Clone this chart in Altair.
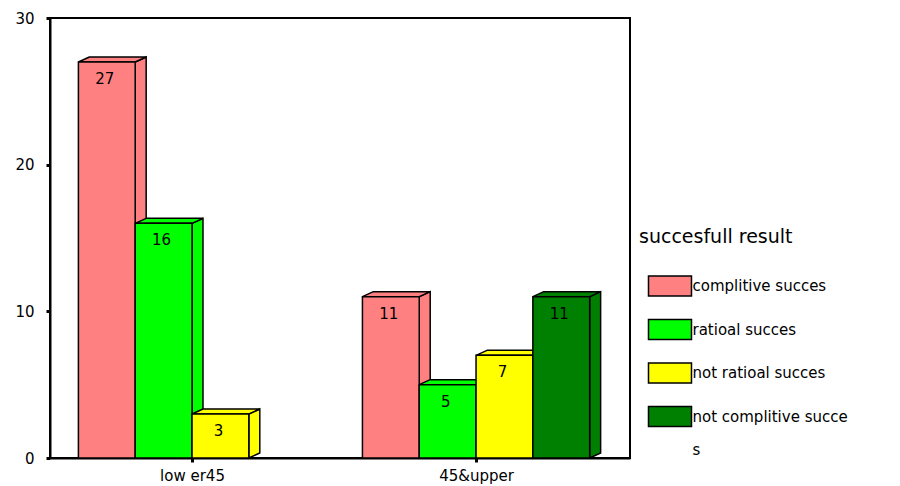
import altair as alt
import pandas as pd

# ---- data ----
groups = ["low er45", "45&upper"]
series = ["complitive succes", "ratioal succes", "not ratioal succes", "not complitive succes"]
colors = ["#FF8080", "#00FF00", "#FFFF00", "#008000"]
counts_lower45 = [27, 16, 3, 0]
counts_45upper = [11, 5, 7, 11]
y_ticks = [0, 10, 20, 30]

# ---- layout / style constants ----
FONT = "DejaVu Sans"
SLOTS = 5          # bar slots per group (4 bars + gap)
DX = 0.193         # 3D depth, x units
DY = 0.34          # 3D depth, y units

rows = []
for gi, vals in enumerate([counts_lower45, counts_45upper]):
    for si, v in enumerate(vals):
        rows.append({"group": groups[gi], "series": series[si], "value": v, "gi": gi, "si": si})
df = pd.DataFrame(rows)

xscale = alt.Scale(domain=[-0.5, 9.71], nice=False, zero=False)
yscale = alt.Scale(domain=[0, 30], nice=False)
fill_scale = alt.Scale(domain=series, range=colors)

label_expr = " : ".join(
    [f"datum.value == {gi*SLOTS+2} ? '{g}'" for gi, g in enumerate(groups[:-1])] + [f"'{groups[-1]}'"]
)

base = (
    alt.Chart(df)
    .transform_filter("datum.value > 0")
    .transform_calculate(
        x0=f"datum.gi * {SLOTS} + datum.si",
        x1=f"datum.gi * {SLOTS} + datum.si + 1",
        xc=f"datum.gi * {SLOTS} + datum.si + 0.5",
        bar="datum.group + '|' + datum.series",
        k0="0",
        k1="1",
    )
)

x_axis = alt.Axis(
    values=[gi * SLOTS + 2 for gi in range(len(groups))],
    labelExpr=label_expr,
    title=None, grid=False, tickSize=4, tickWidth=3, tickColor="black",
    domainColor="black", domainWidth=2, labelFont=FONT, labelFontSize=15,
    labelColor="black", labelPadding=6,
)
y_axis = alt.Axis(
    values=y_ticks, title=None, grid=False, tickSize=4, tickWidth=3, tickColor="black",
    domainColor="black", domainWidth=2, labelFont=FONT, labelFontSize=15,
    labelColor="black", labelPadding=12,
)

legend = alt.Legend(
    title="succesfull result",
    orient="none", legendX=589, legendY=210,
    titleFont=FONT, titleFontSize=19, titleFontWeight="normal", titleColor="black",
    titlePadding=16.5,
    labelFont=FONT, labelFontSize=15, labelColor="black", labelLimit=400,
    labelOffset=8.5,
    labelExpr="datum.label == 'not complitive succes' ? ['not complitive succe', 's'] : datum.label",
    symbolType="M-0.605,-0.465H1.395V0.465H-0.605Z",
    symbolSize=1849, symbolStrokeColor="black", symbolStrokeWidth=1.5,
    rowPadding=7.5, padding=0,
)
fill_enc = alt.Fill("series:N", scale=fill_scale, legend=legend, sort=series)

faces = base.transform_fold(["k0", "k1"], as_=["corner", "k"]).transform_calculate(
    sx=f"datum.x1 + datum.k * {DX}",
    sy=f"datum.value + datum.k * {DY}",
    sy2=f"datum.k * {DY}",
    tx0=f"datum.x0 + datum.k * {DX}",
    tx1=f"datum.x1 + datum.k * {DX}",
)

side = faces.mark_area(stroke="black", strokeWidth=1.5, strokeJoin="miter").encode(
    x=alt.X("sx:Q", scale=xscale, axis=x_axis),
    y=alt.Y("sy:Q", scale=yscale, axis=y_axis, stack=None),
    y2="sy2:Q",
    fill=fill_enc,
    detail="bar:N",
)

top = faces.mark_area(orient="horizontal", stroke="black", strokeWidth=1.5, strokeJoin="miter").encode(
    y=alt.Y("sy:Q", scale=yscale, axis=y_axis),
    x=alt.X("tx0:Q", scale=xscale, axis=x_axis, stack=None),
    x2="tx1:Q",
    fill=fill_enc,
    detail="bar:N",
)

front = base.mark_bar(stroke="black", strokeWidth=1.5).encode(
    x=alt.X("x0:Q", scale=xscale, axis=x_axis),
    x2="x1:Q",
    y=alt.Y("value:Q", scale=yscale, axis=y_axis),
    y2=alt.datum(0),
    fill=fill_enc,
)

labels = base.mark_text(font=FONT, fontSize=15, color="black", dy=17, dx=-2, baseline="middle").encode(
    x=alt.X("xc:Q", scale=xscale, axis=x_axis),
    y=alt.Y("value:Q", scale=yscale, axis=y_axis),
    text="value:Q",
)

chart = (
    alt.layer(side, top, front, labels)
    .properties(
        width=580, height=440,
        autosize=alt.AutoSizeParams(type="none"),
        padding={"left": 50, "top": 18, "right": 270, "bottom": 28},
        background="white",
    )
    .configure(
        view=alt.ViewConfig(stroke="black", strokeWidth=2),
        style={"guide-label": {"lineHeight": 33}},
    )
)

chart.save("out.html", embed_options={"renderer": "svg", "actions": False})
